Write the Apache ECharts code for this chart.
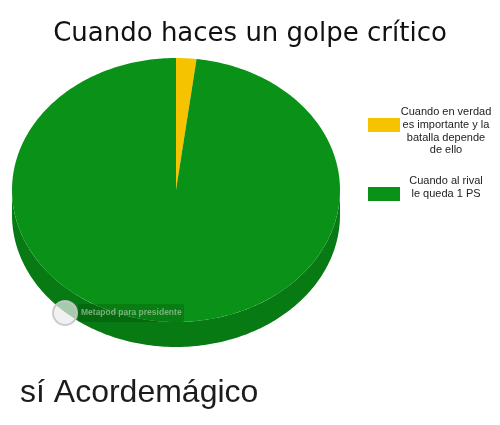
<!DOCTYPE html>
<html>
<head>
<meta charset="utf-8">
<script src="https://cdn.jsdelivr.net/npm/echarts@6/dist/echarts.min.js"></script>
<style>
  html, body { margin: 0; padding: 0; background: #fff; }
  #chart { width: 500px; height: 425px; }
</style>
</head>
<body>
<div id="chart"></div>
<script>
// data
var names = [
  'Cuando en verdad\nes importante y la\nbatalla depende\nde ello',
  'Cuando al rival\nle queda 1 PS'
];
var values = [2, 98];
var colors = ['#f5c300', '#0a9218'];
var sideColors = ['#c99f00', '#077a14'];

// tilted pie geometry
var cx = 176, cy = 190, rx = 164, ry = 132, depth = 25;

var total = values.reduce(function (a, b) { return a + b; }, 0);

function sliceRange(i) {
  var start = -90;
  for (var k = 0; k < i; k++) start += values[k] / total * 360;
  return [start, start + values[i] / total * 360];
}

function arcPts(a, b, dy) {
  var pts = [];
  var n = Math.max(2, Math.ceil(Math.abs(b - a)));
  for (var s = 0; s <= n; s++) {
    var t = (a + (b - a) * s / n) * Math.PI / 180;
    pts.push([cx + rx * Math.cos(t), cy + ry * Math.sin(t) + dy]);
  }
  return pts;
}

function renderSide(params, api) {
  var r = sliceRange(params.dataIndex);
  var children = [];
  [0, 360].forEach(function (k) {
    var a = Math.max(r[0], k), b = Math.min(r[1], k + 180);
    if (b > a) {
      var top = arcPts(a, b, 0);
      var bot = arcPts(a, b, depth).reverse();
      children.push({
        type: 'polygon',
        shape: { points: top.concat(bot) },
        style: { fill: sideColors[params.dataIndex] }
      });
    }
  });
  return { type: 'group', children: children };
}

function renderTop(params, api) {
  var r = sliceRange(params.dataIndex);
  return {
    type: 'polygon',
    shape: { points: [[cx, cy]].concat(arcPts(r[0], r[1], 0)) },
    style: { fill: colors[params.dataIndex] }
  };
}

var seriesData = values.map(function (v, i) { return { value: v, name: names[i] }; });

// legend drawn as graphic
var legendItems = [];
var legendTops = [106, 175];
names.forEach(function (n, i) {
  legendItems.push({
    type: 'rect',
    shape: { x: 368, y: legendTops[i] + 12, width: 32, height: 14 },
    style: { fill: colors[i] }
  });
  legendItems.push({
    type: 'text',
    x: 446, y: legendTops[i],
    style: {
      text: n, fill: '#222', font: '11px "Liberation Sans"',
      align: 'center', verticalAlign: 'top', lineHeight: 12.6
    }
  });
});

var chart = echarts.init(document.getElementById('chart'));
chart.setOption({
  animation: false,
  title: {
    text: 'Cuando haces un golpe crítico',
    left: 'center',
    top: 16,
    textStyle: { fontFamily: 'DejaVu Sans', fontSize: 26, fontWeight: 'normal', color: '#111' }
  },
  series: [
    { type: 'custom', coordinateSystem: 'none', renderItem: renderSide, data: seriesData, z: 1 },
    { type: 'custom', coordinateSystem: 'none', renderItem: renderTop, data: seriesData, z: 2 }
  ],
  graphic: legendItems.concat([
    {
      type: 'rect', z: 10,
      shape: { x: 78, y: 304, width: 106, height: 18 },
      style: { fill: 'rgba(0,50,0,0.22)' }
    },
    {
      type: 'text', z: 11, x: 81, y: 308,
      style: {
        text: 'Metapod para presidente', fill: 'rgba(160,195,160,0.75)',
        font: 'bold 8.5px "Liberation Sans"'
      }
    },
    {
      type: 'circle', z: 11,
      shape: { cx: 65, cy: 313, r: 12 },
      style: { fill: 'rgba(235,235,240,0.7)', stroke: 'rgba(200,200,200,0.9)', lineWidth: 2 }
    },
    {
      type: 'text', z: 10, left: 20, top: 377,
      style: {
        text: 'sí Acordemágico', fill: '#1c1c1c',
        font: '32px "Liberation Sans"'
      }
    }
  ])
});
</script>
</body>
</html>
